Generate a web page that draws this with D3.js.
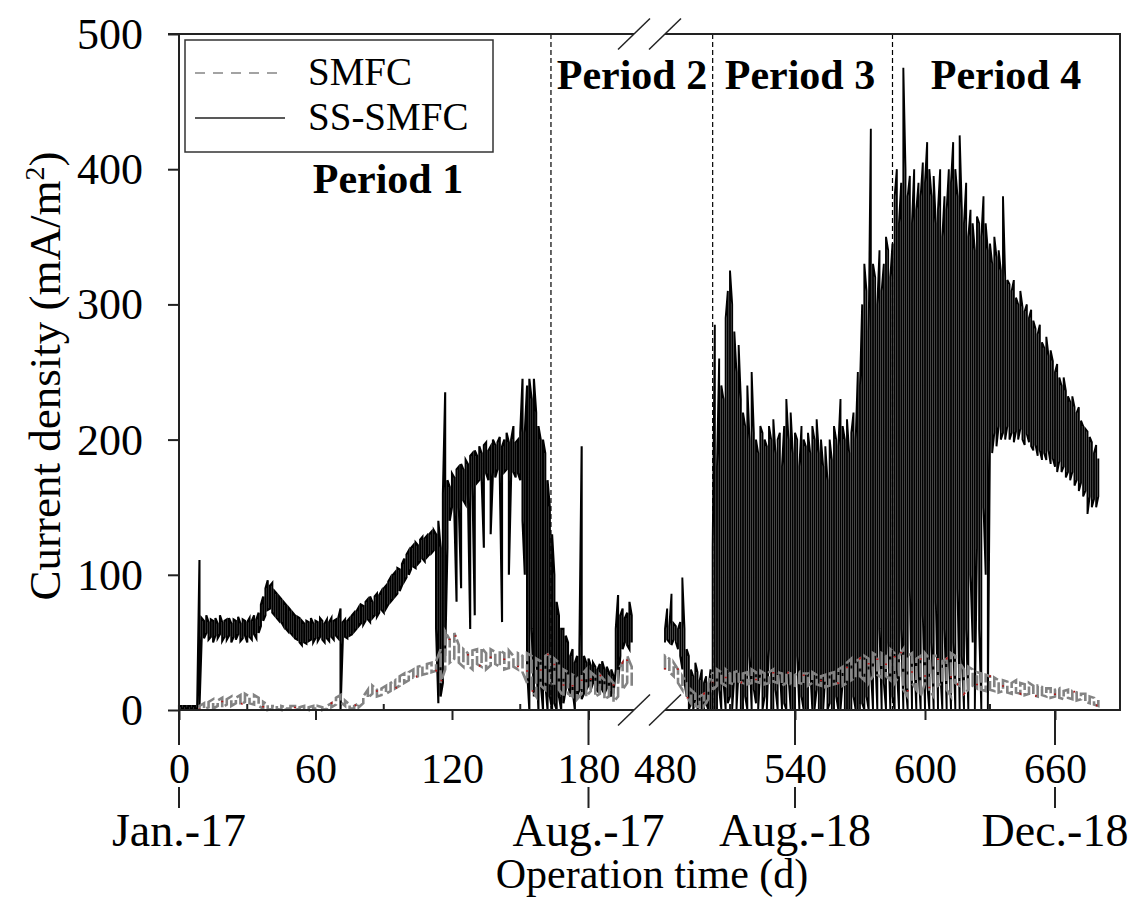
<!DOCTYPE html>
<html>
<head>
<meta charset="utf-8">
<script src="https://cdn.jsdelivr.net/npm/d3@7"></script>
<style>
  body { margin: 0; background: #fff; }
  svg { display: block; }
  text { font-family: "Liberation Serif", "Times New Roman", serif; fill: #000; }
</style>
</head>
<body>
<svg id="chart" width="1145" height="906"></svg>
<script>
// SS-SMFC, [day, min, max], first block (Jan.-17 .. Aug.-17)
var ssLeft = [
  [0,1,3],[1,1,3],[2,1,3],[3,1,3],[4,1,3],[5,1,3],[6,1,3],[7,1,3],[8,1,3],[9,2,111],
  [10,55,68],[11,53,66],[12,57,70],[13,52,65],[14,54,67],[15,50,66],[16,55,68],[17,53,64],[18,56,70],[19,51,65],
  [20,54,66],[21,52,67],[22,55,68],[23,50,64],[24,54,67],[25,52,66],[26,56,69],[27,51,64],[28,53,67],[29,55,66],
  [30,50,65],[31,54,68],[32,52,66],[33,56,70],[34,53,67],[35,57,72],[36,62,78],[37,66,84],[38,70,90],[39,74,96],
  [40,75,92],[41,72,94],[42,70,88],[43,68,86],[44,66,84],[45,65,82],[46,62,80],[47,60,78],[48,58,76],[49,57,74],
  [50,55,72],[51,53,70],[52,52,69],[53,50,68],[54,48,66],[55,50,64],[56,49,66],[57,51,65],[58,52,68],[59,50,64],
  [60,53,66],[61,51,65],[62,54,68],[63,52,66],[64,50,64],[65,53,67],[66,51,65],[67,54,68],[68,52,66],[69,55,67],
  [70,53,68],[71,0,75],[72,52,65],[73,54,67],[74,53,66],[75,55,68],[76,56,70],[77,58,72],[78,60,73],[79,62,76],
  [80,64,78],[81,63,77],[82,66,80],[83,67,82],[84,65,84],[85,68,80],[86,70,84],[87,69,86],[88,72,85],[89,74,88],
  [90,72,90],[91,75,92],[92,78,95],[93,80,98],[94,82,100],[95,84,102],[96,86,105],[97,88,104],[98,92,108],[99,95,112],
  [100,98,115],[101,100,118],[102,104,120],[103,106,122],[104,105,124],[105,108,122],[106,110,126],[107,112,128],[108,110,127],[109,113,129],
  [110,115,130],[111,116,132],[112,118,133],[113,60,130],[114,5,140],[115,10,120],[116,20,160],[117,40,235],[118,120,170],[119,140,165],
  [120,150,175],[121,148,172],[122,80,178],[123,150,180],[124,90,182],[125,155,178],[126,152,185],[127,160,182],[128,60,188],[129,165,190],
  [130,70,192],[131,168,188],[132,170,195],[133,172,190],[134,120,196],[135,175,198],[136,170,192],[137,130,195],[138,176,200],[139,172,196],
  [140,178,198],[141,175,202],[142,65,195],[143,176,200],[144,178,205],[145,100,198],[146,174,200],[147,176,210],[148,172,198],[149,175,200],
  [150,170,205],[151,140,245],[152,100,205],[153,30,240],[154,0,245],[155,60,230],[156,10,245],[157,40,220],[158,0,210],[159,20,200],
  [160,0,200],[161,20,190],[162,0,170],[163,10,150],[164,0,130],[165,5,100],[166,0,80],[167,10,70],[168,0,60],[169,5,60],
  [170,15,55],[171,20,50],[172,10,40],[173,15,45],[174,0,35],[175,10,40],[176,15,45],[177,8,195],[178,12,40],[179,15,35],
  [180,18,38],[181,15,33],[182,20,35],[183,16,32],[184,14,30],[185,18,34],[186,15,36],[187,12,30],[188,16,32],[189,14,28],
  [190,10,30],[191,12,25],[192,30,60],[193,20,85],[194,40,70],[195,45,75],[196,50,68],[197,48,72],[198,45,80],[199,50,70]
];

// SS-SMFC, second block (Jul.-18 .. Dec.-18)
var ssRight = [
  [480,50,60],[481,52,75],[482,50,62],[483,48,86],[484,52,64],[485,50,62],[486,45,60],[487,40,65],[488,30,98],[489,20,60],
  [490,10,45],[491,0,40],[492,5,30],[493,0,25],[494,8,35],[495,0,28],[496,5,22],[497,0,30],[498,0,20],[499,5,25],
  [500,0,15],[501,0,30],[502,0,120],[503,0,285],[504,0,180],[505,15,260],[506,0,240],[507,20,230],[508,0,290],[509,5,310],
  [510,10,325],[511,0,300],[512,25,280],[513,0,250],[514,30,270],[515,0,230],[516,0,220],[517,10,210],[518,0,240],[519,40,200],
  [520,0,250],[521,15,205],[522,5,200],[523,0,190],[524,30,210],[525,0,205],[526,10,200],[527,0,195],[528,45,210],[529,0,200],
  [530,0,215],[531,15,190],[532,0,200],[533,30,205],[534,0,180],[535,5,210],[536,0,230],[537,25,200],[538,0,220],[539,0,190],
  [540,0,205],[541,40,200],[542,0,180],[543,10,210],[544,0,200],[545,0,195],[546,0,205],[547,30,190],[548,0,210],[549,0,200],
  [550,15,215],[551,0,190],[552,0,200],[553,0,180],[554,25,195],[555,0,170],[556,5,200],[557,0,185],[558,0,210],[559,10,200],
  [560,0,195],[561,0,230],[562,20,210],[563,0,200],[564,0,215],[565,0,190],[566,0,205],[567,10,220],[568,0,200],[569,0,250],
  [570,0,240],[571,5,300],[572,0,330],[573,10,310],[574,0,280],[575,30,430],[576,0,330],[577,40,320],[578,0,300],[579,60,340],
  [580,0,310],[581,20,330],[582,0,350],[583,50,340],[584,0,320],[585,10,345],[586,0,380],[587,30,400],[588,0,360],[589,60,390],
  [590,0,475],[591,20,400],[592,0,380],[593,90,395],[594,0,360],[595,40,400],[596,0,370],[597,30,390],[598,0,380],[599,70,405],
  [600,0,390],[601,20,420],[602,0,400],[603,50,380],[604,0,395],[605,80,360],[606,0,370],[607,30,400],[608,0,350],[609,60,380],
  [610,0,370],[611,40,400],[612,0,390],[613,50,420],[614,0,400],[615,90,380],[616,0,425],[617,40,370],[618,0,360],[619,60,390],
  [620,0,350],[621,100,370],[622,50,360],[623,0,340],[624,120,365],[625,60,360],[626,0,350],[627,150,380],[628,100,360],[629,0,340],
  [630,200,345],[631,190,330],[632,205,350],[633,195,335],[634,210,340],[635,200,325],[636,205,380],[637,200,320],[638,210,318],[639,200,315],
  [640,205,310],[641,198,318],[642,206,305],[643,200,300],[644,208,310],[645,200,298],[646,196,295],[647,204,300],[648,198,290],[649,195,296],
  [650,192,288],[651,196,282],[652,188,278],[653,192,285],[654,185,272],[655,190,268],[656,185,276],[657,192,262],[658,182,266],[659,186,258],
  [660,180,250],[661,176,256],[662,184,246],[663,176,240],[664,180,246],[665,172,236],[666,176,232],[667,170,228],[668,176,232],[669,166,224],
  [670,170,220],[671,162,224],[672,168,214],[673,158,210],[674,162,208],[675,145,206],[676,158,202],[677,150,198],[678,156,190],[679,150,196],
  [680,158,186]
];

// SMFC, [day, min, max]
var smfcLeft = [
  [9,0,3],[11,1,5],[13,2,6],[15,1,8],[17,3,7],[19,2,9],[21,4,8],[23,3,10],[25,5,9],[27,4,11],
  [29,6,12],[31,5,10],[33,4,11],[35,3,9],[37,1,6],[39,0,4],[41,1,3],[43,1,3],[45,0,3],[47,1,2],
  [49,1,3],[51,0,3],[53,1,2],[55,1,3],[57,0,2],[59,1,3],[61,1,3],[63,0,2],[65,1,3],[67,2,5],
  [69,4,9],[71,6,11],[73,3,7],[75,1,4],[77,1,3],[79,2,5],[81,5,10],[83,9,15],[85,12,18],[87,10,15],
  [89,11,16],[91,12,18],[93,14,20],[95,16,22],[97,18,25],[99,20,27],[101,22,28],[103,24,30],[105,25,32],[107,26,33],
  [109,27,34],[111,28,35],[113,29,36],[115,20,45],[117,30,58],[119,35,52],[121,38,57],[123,35,48],[125,32,45],[127,33,42],
  [129,30,44],[131,34,45],[133,32,46],[135,30,42],[137,33,45],[139,34,43],[141,32,44],[143,30,42],[145,31,44],[147,32,40],
  [149,30,42],[151,28,40],[153,20,42],[155,15,40],[157,10,38],[159,18,36],[161,15,40],[163,20,42],[165,18,38],[167,15,35],
  [169,10,30],[171,12,28],[173,10,26],[175,8,24],[177,12,26],[179,10,30],[181,14,28],[183,10,25],[185,12,26],[187,8,22],
  [189,10,24],[191,6,20],[193,10,30],[195,15,35],[197,20,40],[199,18,32]
];

var smfcRight = [
  [480,30,40],[482,28,38],[484,25,35],[486,20,30],[488,15,25],[490,10,20],[492,5,15],[494,3,12],[496,2,10],[498,3,12],
  [500,8,20],[502,15,28],[504,18,30],[506,20,28],[508,18,30],[510,20,27],[512,19,28],[514,21,29],[516,20,27],[518,19,28],
  [520,20,30],[522,21,28],[524,20,29],[526,19,27],[528,20,28],[530,21,30],[532,20,28],[534,18,27],[536,20,28],[538,19,27],
  [540,18,26],[542,20,28],[544,19,27],[546,18,27],[548,20,28],[550,19,26],[552,18,25],[554,17,26],[556,18,27],[558,19,28],
  [560,20,30],[562,18,32],[564,20,35],[566,22,38],[568,24,36],[570,25,38],[572,22,40],[574,20,38],[576,25,42],[578,26,40],
  [580,24,42],[582,25,40],[584,22,45],[586,20,42],[588,25,40],[590,15,45],[592,10,40],[594,20,42],[596,15,38],[598,10,40],
  [600,20,42],[602,15,38],[604,10,40],[606,18,40],[608,20,36],[610,15,38],[612,10,42],[614,20,40],[616,18,35],[618,12,30],
  [620,15,32],[622,18,30],[624,16,28],[626,15,27],[628,14,26],[630,15,25],[632,14,24],[634,13,22],[636,14,22],[638,13,21],
  [640,12,20],[642,13,22],[644,12,20],[646,11,19],[648,12,20],[650,11,18],[652,10,18],[654,11,17],[656,10,16],[658,9,16],
  [660,10,15],[662,9,16],[664,8,14],[666,9,15],[668,8,14],[670,7,13],[672,8,12],[674,6,12],[676,5,10],[678,4,9],
  [680,3,8]
];

var yTicks = [0, 100, 200, 300, 400, 500];
var xTicksLeft = [0, 60, 120, 180];
var xTicksRight = [480, 540, 600, 660];
var xMinorLeft = [30, 90, 150];
var xMinorRight = [510, 570, 630];
var dateDays = [0, 180, 540, 660];
var dateLabels = ["Jan.-17", "Aug.-17", "Aug.-18", "Dec.-18"];
var periodDays = [163.5, 502, 585];
var periodNames = ["Period 1", "Period 2", "Period 3", "Period 4"];
var seriesNames = ["SMFC", "SS-SMFC"];

var svg = d3.select("#chart");

// dos tramos del eje x (eje partido)
var xL = d3.scaleLinear().domain([0, 200]).range([179, 634]);
var xR = d3.scaleLinear().domain([480, 690]).range([665, 1120]);
var y = d3.scaleLinear().domain([0, 500]).range([710, 34]);
function xs(d) { return d < 300 ? xL(d) : xR(d); }

// convertir [dia, min, max] en zigzag
function zigzag(rows) {
  var pts = [];
  rows.forEach(function(r, i) {
    if (i % 2 === 0) { pts.push([r[0], r[1]]); pts.push([r[0], r[2]]); }
    else { pts.push([r[0], r[2]]); pts.push([r[0], r[1]]); }
  });
  return pts;
}

var line = d3.line().x(function(p) { return xs(p[0]); }).y(function(p) { return y(p[1]); });

var dataG = svg.append("g");

// SS-SMFC
[[ssLeft, 2.1], [ssRight, 1.9]].forEach(function(s) {
  dataG.append("path")
    .attr("d", line(zigzag(s[0])))
    .attr("fill", "none")
    .attr("stroke", "#000")
    .attr("stroke-width", s[1]);
});

// SMFC (gris discontinuo con puntitos rojos)
[smfcLeft, smfcRight].forEach(function(rows) {
  var d = line(zigzag(rows));
  dataG.append("path")
    .attr("d", d)
    .attr("fill", "none")
    .attr("stroke", "#838383")
    .attr("stroke-width", 2.6)
    .attr("stroke-dasharray", "14,3");
  dataG.append("path")
    .attr("d", d)
    .attr("fill", "none")
    .attr("stroke", "#b01818")
    .attr("stroke-width", 2)
    .attr("stroke-dasharray", "1.5,57");
});

// lineas de periodo
svg.selectAll(".period-line")
  .data(periodDays)
  .enter().append("line")
  .attr("class", "period-line")
  .attr("x1", function(d) { return xs(d); })
  .attr("x2", function(d) { return xs(d); })
  .attr("y1", y(500))
  .attr("y2", y(0))
  .attr("stroke", "#000")
  .attr("stroke-width", 1.2)
  .attr("stroke-dasharray", "5,3");

// marco
var frame = svg.append("g").attr("stroke", "#222").attr("stroke-width", 2).attr("fill", "none");
frame.append("line").attr("x1", xL(0)).attr("x2", xL(0)).attr("y1", y(500)).attr("y2", y(0));
frame.append("line").attr("x1", xR(690)).attr("x2", xR(690)).attr("y1", y(500) - 1).attr("y2", y(0) + 1);
frame.append("line").attr("x1", xL(0) - 11).attr("x2", xL(200)).attr("y1", y(500)).attr("y2", y(500));
frame.append("line").attr("x1", xR(480)).attr("x2", xR(690) + 1).attr("y1", y(500)).attr("y2", y(500));
frame.append("line").attr("x1", xL(0)).attr("x2", xL(200)).attr("y1", y(0)).attr("y2", y(0));
frame.append("line").attr("x1", xR(480)).attr("x2", xR(690) + 1).attr("y1", y(0)).attr("y2", y(0));

// marcas de corte
var breaks = svg.append("g").attr("stroke", "#222").attr("stroke-width", 1.5);
[xL(200), xR(480)].forEach(function(bx) {
  [y(500), y(0)].forEach(function(by) {
    breaks.append("line")
      .attr("x1", bx - 16).attr("y1", by + 15.5)
      .attr("x2", bx + 16).attr("y2", by - 15.5);
  });
});

// eje y
var yAxis = svg.append("g")
  .attr("transform", "translate(" + xL(0) + ",0)")
  .call(d3.axisLeft(y).tickValues(yTicks).tickSize(11).tickSizeOuter(0).tickPadding(25));
yAxis.select(".domain").remove();
yAxis.selectAll("line").attr("stroke", "#222").attr("stroke-width", 2);
yAxis.selectAll("text")
  .attr("font-family", "Liberation Serif, Times New Roman, serif")
  .attr("font-size", 44)
  .attr("dy", "0.33em");

// ejes x
function xAxisPart(scale, ticks) {
  var g = svg.append("g")
    .attr("transform", "translate(0," + y(0) + ")")
    .call(d3.axisBottom(scale).tickValues(ticks).tickSize(10).tickSizeOuter(0).tickPadding(33));
  g.select(".domain").remove();
  g.selectAll("line").attr("stroke", "#222").attr("stroke-width", 2);
  g.selectAll("text")
    .attr("font-family", "Liberation Serif, Times New Roman, serif")
    .attr("font-size", 42);
  return g;
}
xAxisPart(xL, xTicksLeft);
var xRight = xAxisPart(xR, xTicksRight);
xRight.selectAll(".tick").filter(function(d) { return d === 480; }).select("line").remove();

// marcas menores hacia dentro
svg.selectAll(".minor")
  .data(xMinorLeft.concat(xMinorRight))
  .enter().append("line")
  .attr("class", "minor")
  .attr("x1", function(d) { return xs(d); })
  .attr("x2", function(d) { return xs(d); })
  .attr("y1", y(0))
  .attr("y2", y(0) - 6)
  .attr("stroke", "#222")
  .attr("stroke-width", 2);

// marcas de fecha
var dates = svg.append("g");
dates.selectAll(".date-tick-a")
  .data(dateDays)
  .enter().append("line")
  .attr("x1", function(d) { return xs(d); })
  .attr("x2", function(d) { return xs(d); })
  .attr("y1", y(0))
  .attr("y2", y(0) + 35)
  .attr("stroke", "#222").attr("stroke-width", 2);
dates.selectAll(".date-tick-b")
  .data(dateDays)
  .enter().append("line")
  .attr("x1", function(d) { return xs(d); })
  .attr("x2", function(d) { return xs(d); })
  .attr("y1", 787)
  .attr("y2", 808)
  .attr("stroke", "#222").attr("stroke-width", 2);
dates.selectAll(".date-label")
  .data(dateDays)
  .enter().append("text")
  .attr("x", function(d) { return xs(d); })
  .attr("y", 846)
  .attr("text-anchor", "middle")
  .attr("font-size", 46)
  .text(function(d, i) { return dateLabels[i]; });

// titulos de ejes
svg.append("text")
  .attr("x", 652)
  .attr("y", 888)
  .attr("text-anchor", "middle")
  .attr("font-size", 42)
  .text("Operation time (d)");

var yTitle = svg.append("text")
  .attr("transform", "translate(60,376) rotate(-90)")
  .attr("text-anchor", "middle")
  .attr("font-size", 45);
yTitle.append("tspan").text("Current density (mA/m");
yTitle.append("tspan").attr("font-size", 28).attr("dy", "-16").text("2");
yTitle.append("tspan").attr("dy", "16").text(")");

// nombres de periodos
var periodPos = [[388, 193], [632, 89], [800, 89], [1006, 89]];
svg.selectAll(".period-name")
  .data(periodNames)
  .enter().append("text")
  .attr("x", function(d, i) { return periodPos[i][0]; })
  .attr("y", function(d, i) { return periodPos[i][1]; })
  .attr("text-anchor", "middle")
  .attr("font-size", 42)
  .attr("font-weight", "bold")
  .text(function(d) { return d; });

// leyenda
var legend = svg.append("g");
legend.append("rect")
  .attr("x", 185).attr("y", 40).attr("width", 308).attr("height", 112)
  .attr("fill", "#fff").attr("stroke", "#333").attr("stroke-width", 1.5);
legend.append("line")
  .attr("x1", 195).attr("x2", 285).attr("y1", 73).attr("y2", 73)
  .attr("stroke", "#858585").attr("stroke-width", 1.5).attr("stroke-dasharray", "10,8");
legend.append("line")
  .attr("x1", 195).attr("x2", 285).attr("y1", 118).attr("y2", 118)
  .attr("stroke", "#222").attr("stroke-width", 1.5);
legend.selectAll(".legend-text")
  .data(seriesNames)
  .enter().append("text")
  .attr("x", 308)
  .attr("y", function(d, i) { return 85 + i * 45; })
  .attr("font-size", 39)
  .text(function(d) { return d; });
</script>
</body>
</html>
